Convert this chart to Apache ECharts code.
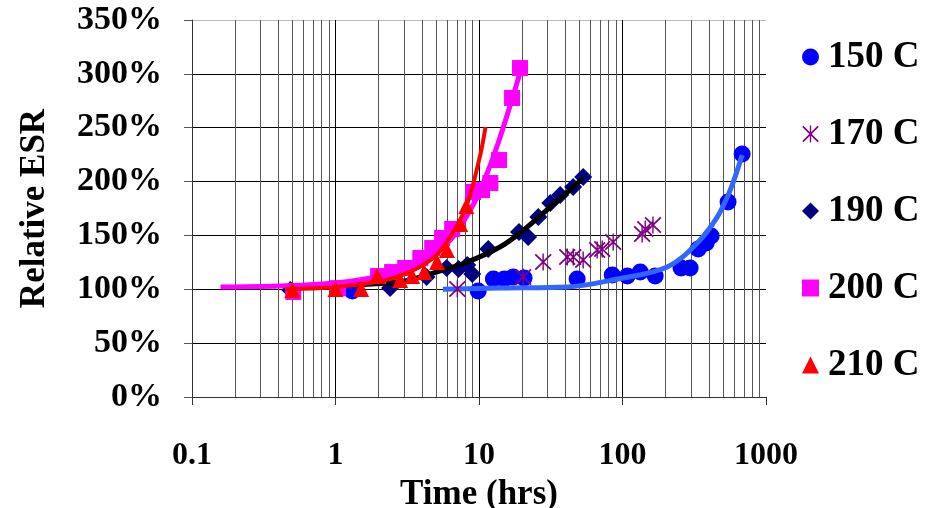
<!DOCTYPE html>
<html><head><meta charset="utf-8">
<script src="https://cdn.jsdelivr.net/npm/echarts@6/dist/echarts.min.js"></script>
<style>html,body{margin:0;padding:0;background:#fff}#c{width:936px;height:508px}</style>
</head><body><div id="c"></div>
<script>
// ---- data (time in hrs, relative ESR in %) ----
const seriesNames = ['150 C', '170 C', '190 C', '200 C', '210 C'];
const yTickValues = [0, 50, 100, 150, 200, 250, 300, 350];

const t150 = [1.31, 9.87, 12.6, 15.0, 17.3, 20.6, 48.3, 84.8, 108, 133, 169, 256, 296, 337, 383, 415, 544, 682];
const r150 = [98.4, 98.4, 109.5, 109.5, 111.4, 110.5, 109.5, 113.3, 112.3, 116, 112.3, 119.8, 119.8, 137.4, 143, 149.5, 181, 225.6];
const fitT150 = [5.6, 14.1, 41.2, 91.8, 205, 332, 457, 563, 682];
const fitR150 = [100, 101.2, 102.1, 109.5, 120.7, 143, 167, 192, 224.7];

const t170 = [7.06, 20.3, 28.0, 41.2, 45.4, 53.2, 66.6, 72.2, 86.1, 137, 144, 163];
const r170 = [100.3, 111.4, 125.3, 130, 130, 127.2, 136.5, 137.4, 143.9, 151.3, 156, 159.7];

const t190 = [0.484, 2.40, 4.31, 5.95, 7.20, 8.28, 8.97, 11.6, 19.0, 22.0, 25.9, 31.4, 36.8, 45.3, 53.2];
const r190 = [99.3, 101.2, 111.4, 119.8, 118.8, 122.5, 114.2, 137.4, 153.2, 148.5, 167.1, 180.1, 187.5, 195, 204.2];
const fitT190 = [0.434, 1.0, 2.82, 4.79, 8.27, 14.0, 19.3, 31.4, 53.2];
const fitR190 = [102.1, 103.5, 107, 115, 125.3, 139.3, 152.3, 176.4, 203.3];

const t200 = [0.508, 1.04, 1.98, 2.48, 3.06, 3.90, 4.72, 5.53, 6.5, 9.1, 10.5, 12.0, 13.8, 17.0, 19.3];
const r200 = [97.5, 101, 112.3, 116, 119.8, 129, 138.3, 147.6, 156, 190.3, 192.2, 198.7, 220, 277.6, 305.4];
const fitT200 = [0.158, 0.413, 1.0, 2.05, 3.89, 6.31, 8.7, 10.7, 13.6, 19.3];
const fitR200 = [102.1, 103, 105.8, 112.3, 125.3, 145.8, 173.6, 198.7, 235.8, 300.8];

const t210 = [0.50, 1.0, 1.51, 1.95, 2.82, 3.42, 4.15, 5.10, 5.98, 7.40, 8.16];
const r210 = [99.3, 100.3, 100.3, 112.3, 108.6, 112.3, 116, 125.3, 136.5, 160.6, 177.3];
const fitT210 = [0.446, 1.0, 2.52, 4.79, 6.6, 8.27, 10.2, 11.1];
const fitR210 = [100.3, 102.1, 110.5, 129, 153.2, 179.2, 224.7, 250.7];

// ---- helpers ----
const zip = (a, b) => a.map((v, i) => [v, b[i]]);
const FONT = 'Liberation Serif';
const minorLines = [];
[0.1, 1, 10, 100].forEach(d => { for (let k = 2; k <= 9; k++) minorLines.push({ xAxis: +(d * k).toPrecision(6) }); });
const majorLines = [1, 10, 100].map(v => ({ xAxis: v }));

const ASTERISK = 'path://M9.2 0L10.8 0L10.8 20L9.2 20Z M0.3 1.7L1.7 0.3L19.7 18.3L18.3 19.7Z M18.3 0.3L19.7 1.7L1.7 19.7L0.3 18.3Z';

const chart = echarts.init(document.getElementById('c'), null, { renderer: 'canvas' });
chart.setOption({
  animation: false,
  backgroundColor: '#fff',
  grid: { left: 192, right: 170, top: 20, bottom: 111, containLabel: false, outerBoundsMode: 'none' },
  xAxis: {
    type: 'log', logBase: 10, min: 0.1, max: 1000,
    name: 'Time (hrs)', nameLocation: 'middle', nameGap: 80,
    nameTextStyle: { fontFamily: FONT, fontWeight: 'bold', fontSize: 35, color: '#000' },
    axisLine: { show: true, lineStyle: { color: '#333', width: 1 } },
    axisTick: { show: true, length: 8, lineStyle: { color: '#333' } },
    axisLabel: { margin: 43, fontFamily: FONT, fontWeight: 'bold', fontSize: 32, color: '#000',
      formatter: v => String(+(+v).toPrecision(6)) },
    splitLine: { show: false }
  },
  yAxis: {
    type: 'value', min: 0, max: 350, interval: 50,
    name: 'Relative ESR', nameLocation: 'middle', nameGap: 140, nameRotate: 90,
    nameTextStyle: { fontFamily: FONT, fontWeight: 'bold', fontSize: 35, color: '#000' },
    axisLine: { show: true, lineStyle: { color: '#333', width: 1 } },
    axisTick: { show: true, length: 8, lineStyle: { color: '#555' } },
    axisLabel: { margin: 30, fontFamily: FONT, fontWeight: 'bold', fontSize: 34, color: '#000',
      formatter: v => (yTickValues.includes(v) ? v + '%' : '') },
    splitLine: { show: true, lineStyle: { color: ['#000', '#000', '#000', '#000', '#000', '#000', '#000', '#bbb'], width: 1 } }
  },
  legend: {
    orient: 'vertical', left: 797, top: 32,
    itemWidth: 17, itemHeight: 17, itemGap: 37,
    data: [
      { name: '150 C', icon: 'circle' },
      { name: '170 C', icon: ASTERISK },
      { name: '190 C', icon: 'diamond' },
      { name: '200 C', icon: 'rect' },
      { name: '210 C', icon: 'triangle' }
    ],
    textStyle: { fontFamily: FONT, fontWeight: 'bold', fontSize: 37, color: '#000', lineHeight: 40, padding: [0, 0, 0, 4] }
  },
  series: [
    { type: 'line', name: '_grid', data: [], silent: true, z: 1,
      markLine: { silent: true, symbol: ['none', 'none'], label: { show: false }, z: 1, animation: false,
        lineStyle: { color: '#555', width: 1, type: 'solid' },
        data: minorLines.concat(majorLines.map(m => Object.assign({ lineStyle: { color: '#000' } }, m))) } },
    { type: 'scatter', name: seriesNames[0], data: zip(t150, r150), symbol: 'circle', symbolSize: 17,
      itemStyle: { color: '#0000FF', opacity: 1 }, z: 10 },
    { type: 'line', name: '150 fit', data: zip(fitT150, fitR150), smooth: 0.35, showSymbol: false,
      lineStyle: { color: '#3366FF', width: 5 }, z: 11 },
    { type: 'scatter', name: seriesNames[1], data: zip(t170, r170), symbol: ASTERISK, symbolSize: 17,
      itemStyle: { color: '#800080', opacity: 1 }, z: 12 },
    { type: 'scatter', name: seriesNames[2], data: zip(t190, r190), symbol: 'diamond', symbolSize: 18,
      itemStyle: { color: '#000080', opacity: 1 }, z: 13 },
    { type: 'line', name: '190 fit', data: zip(fitT190, fitR190), smooth: 0.35, showSymbol: false,
      lineStyle: { color: '#000000', width: 5 }, z: 14 },
    { type: 'scatter', name: seriesNames[3], data: zip(t200, r200), symbol: 'rect', symbolSize: 16,
      itemStyle: { color: '#FF00FF', opacity: 1 }, z: 15 },
    { type: 'line', name: '200 fit', data: zip(fitT200, fitR200), smooth: 0.35, showSymbol: false,
      lineStyle: { color: '#FF00FF', width: 5 }, z: 16 },
    { type: 'scatter', name: seriesNames[4], data: zip(t210, r210), symbol: 'triangle', symbolSize: 16,
      itemStyle: { color: '#FF0000', opacity: 1 }, z: 17 },
    { type: 'line', name: '210 fit', data: zip(fitT210, fitR210), smooth: 0.35, showSymbol: false,
      lineStyle: { color: '#FF0000', width: 4 }, z: 18 }
  ]
});
</script></body></html>
